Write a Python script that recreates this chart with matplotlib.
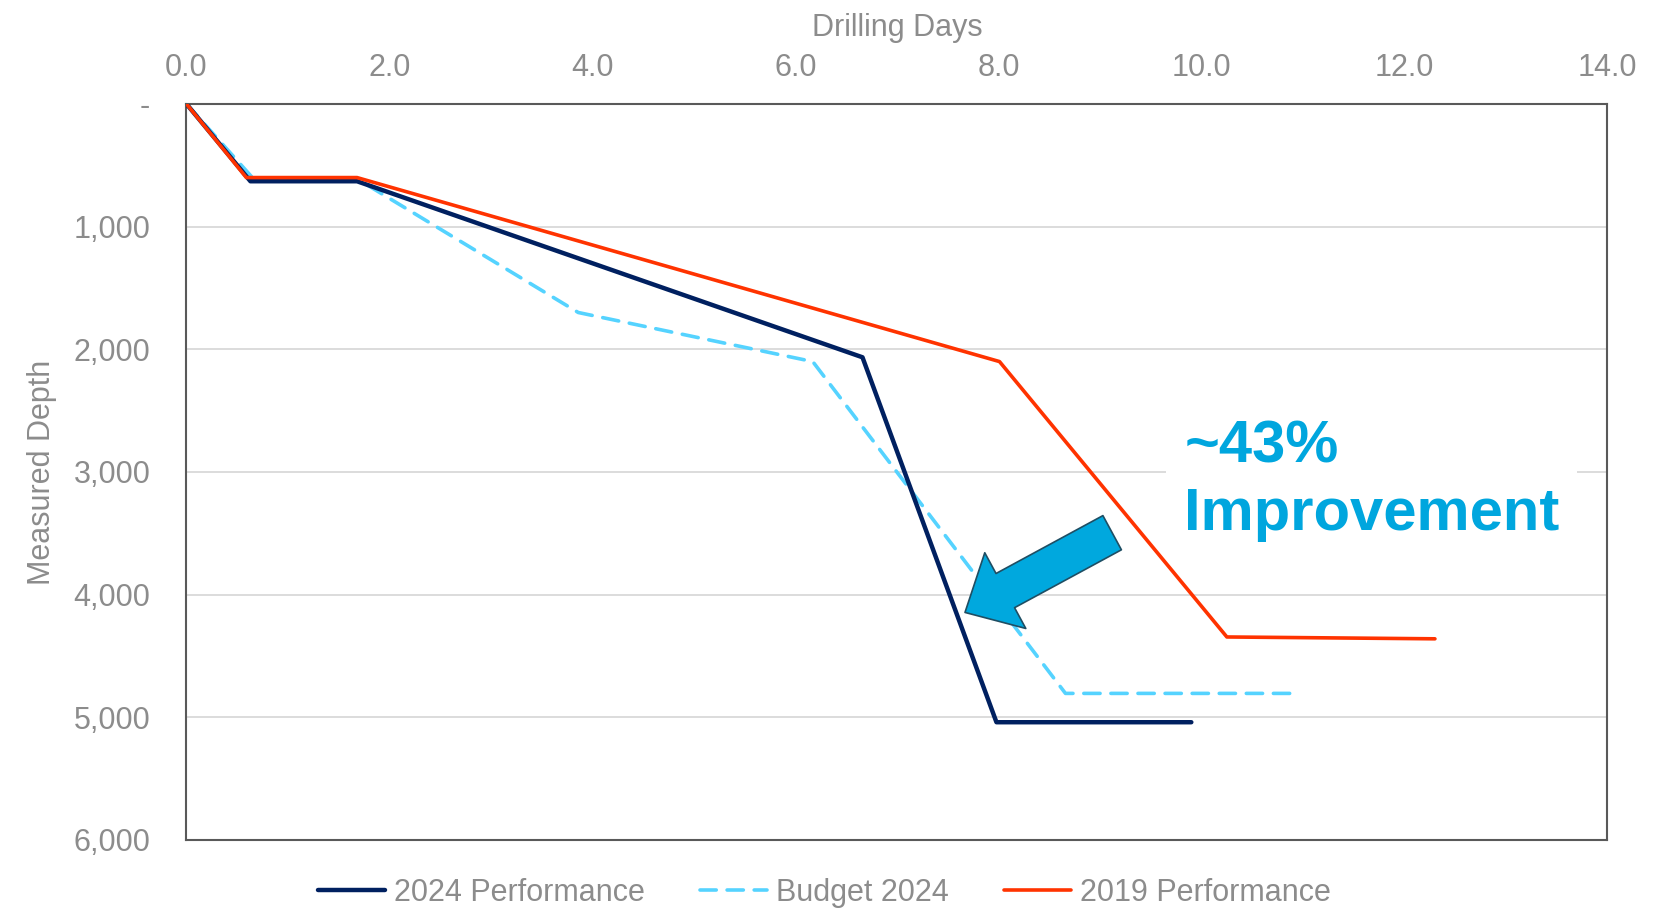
import matplotlib.pyplot as plt
from matplotlib.patches import FancyArrowPatch
from matplotlib.ticker import FuncFormatter

plt.rcParams['font.family'] = ['Liberation Sans', 'DejaVu Sans']

# drilling days vs measured depth for each well
days_2024 = [0.0, 0.63, 1.68, 6.66, 7.98, 9.90]
depth_2024 = [0, 630, 630, 2065, 5040, 5040]

days_budget = [0.0, 0.66, 1.68, 3.86, 6.17, 8.66, 10.90]
depth_budget = [0, 610, 610, 1700, 2100, 4805, 4805]

days_2019 = [0.0, 0.59, 1.68, 8.01, 10.25, 12.30]
depth_2019 = [0, 600, 600, 2100, 4345, 4360]

x_ticks = [0, 2, 4, 6, 8, 10, 12, 14]
y_ticks = [0, 1000, 2000, 3000, 4000, 5000, 6000]

grey = '#8c8c8c'

fig = plt.figure(figsize=(16.62, 9.08), dpi=100)
ax = fig.add_axes([0.1122, 0.0749, 0.855, 0.8106])

ax.plot(days_2024, depth_2024, color='#002060', lw=3.2, label='2024 Performance',
        solid_capstyle='round', zorder=4)
ax.plot(days_budget, depth_budget, color='#55D3FF', lw=2.6, ls=(0, (4.5, 3)),
        label='Budget 2024', dash_capstyle='round', zorder=3)
ax.plot(days_2019, depth_2019, color='#FF3300', lw=2.6, label='2019 Performance',
        solid_capstyle='round', zorder=5)

ax.set_xlim(0, 14)
ax.set_ylim(6000, 0)
ax.set_xticks(x_ticks)
ax.set_yticks(y_ticks)
ax.xaxis.set_major_formatter(FuncFormatter(lambda v, p: f'{v:.1f}'))
ax.yaxis.set_major_formatter(FuncFormatter(lambda v, p: '-' if v == 0 else f'{v:,.0f}'))
ax.xaxis.tick_top()
ax.xaxis.set_label_position('top')
ax.tick_params(axis='both', length=0, labelsize=22, labelcolor=grey)
ax.tick_params(axis='x', pad=15)
ax.tick_params(axis='y', pad=26)
ax.set_xlabel('Drilling Days', fontsize=22, color=grey, labelpad=12)
ax.set_ylabel('Measured Depth', fontsize=22, color=grey, labelpad=12)

ax.grid(axis='y', color='#d9d9d9', lw=1.3)
ax.set_axisbelow(True)
for s in ax.spines.values():
    s.set_color('#595959')
    s.set_linewidth(1.5)

# callout
ax.text(9.83, 3070, '~43%\nImprovement', fontsize=43, fontweight='bold', color='#00A6DE',
        ha='left', va='center', linespacing=1.3, zorder=2.5,
        bbox=dict(boxstyle='square,pad=0.3', facecolor='white', edgecolor='none'))
arrow = FancyArrowPatch((9.12, 3495), (7.67, 4145),
                        arrowstyle='simple,head_length=3.3,head_width=6.2,tail_width=2.8',
                        mutation_scale=10, shrinkA=0, shrinkB=0,
                        facecolor='#00A8DE', edgecolor='#1F4E63', lw=1.2, zorder=7)
ax.add_patch(arrow)

fig.legend(loc='center', bbox_to_anchor=(0.496, 0.0165), ncol=3, frameon=False,
           fontsize=22, labelcolor=grey, handlelength=2.2, handletextpad=0.3,
           columnspacing=1.8)

fig.savefig('out.png', dpi=100)
